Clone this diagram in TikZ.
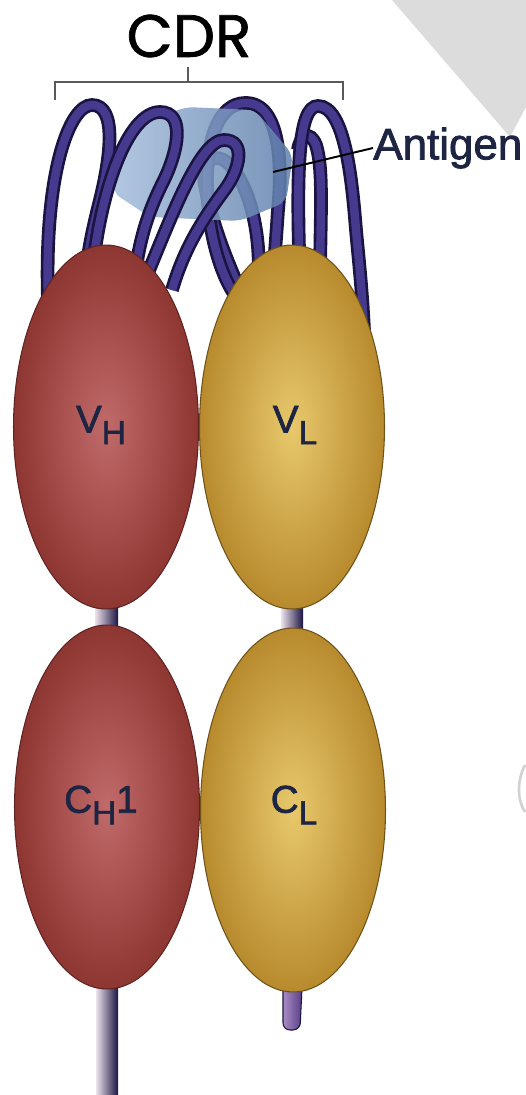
\documentclass[tikz,border=0pt]{standalone}
\usepackage{fontspec}
\setmainfont{Liberation Sans}
\newfontfamily\cdrfont{Poppins}[FakeBold=1.2]
\newfontfamily\labfont{Liberation Sans}[FakeBold=1.8]
\usepackage{tikz}
\usetikzlibrary{shapes.geometric,calc}
\pgfdeclarelayer{back}
\pgfsetlayers{back,main}

\definecolor{loopdark}{HTML}{1B1442}
\definecolor{loopmid}{HTML}{463A8E}
\definecolor{heavyin}{HTML}{C06A6A}
\definecolor{heavyout}{HTML}{8E3631}
\definecolor{heavyrim}{HTML}{5E2424}
\definecolor{lightin}{HTML}{E8C86C}
\definecolor{lightout}{HTML}{B88A2E}
\definecolor{lightrim}{HTML}{6E5218}
\definecolor{agleft}{HTML}{A5BEDC}
\definecolor{agright}{HTML}{5F80AC}
\definecolor{labnavy}{HTML}{1D2542}
\definecolor{bracketgray}{HTML}{5A5A5A}
\definecolor{sheetgray}{HTML}{DCDCDC}
\definecolor{stalkpale}{HTML}{EDE2EC}
\definecolor{tailpale}{HTML}{A78CC4}
\definecolor{taildeep}{HTML}{5A3F86}

\newcommand\chainsub[1]{\raisebox{-0.3em}{\fontsize{19}{19}\selectfont #1}}

\begin{document}
\begin{tikzpicture}[x=0.02cm,y=-0.02cm,
  igdomain/.style={ellipse,inner sep=0pt,minimum width=3.7cm,minimum height=7.28cm,line width=0.6pt},
  heavy/.style={igdomain,draw=heavyrim,inner color=heavyin,outer color=heavyout},
  light/.style={igdomain,draw=lightrim,inner color=lightin,outer color=lightout},
  loop/.style={draw=loopdark,line width=1.5pt,double=loopmid,double distance=4.8pt},
  stalk/.style={left color=stalkpale,right color=loopdark},
  domlabel/.style={text=labnavy,font=\labfont\fontsize{22}{22}\selectfont,inner sep=0pt},
  bracket/.style={draw=bracketgray,line width=1.7pt}]
\useasboundingbox (0,0) rectangle (526,1095);

% page corner and stray mark
\fill[sheetgray] (392,0) -- (526,0) -- (526,107) -- (510,137) -- cycle;
\draw[gray!35,line width=1.5pt] (525,765) .. controls (517,780) and (517,800) .. (525,812);

% CDR bracket
\node[font=\cdrfont\fontsize{34}{34}\selectfont,inner sep=0pt] (cdr) at (189,36) {CDR};
\draw[bracket] (55,100) -- (55,82) -- (343,82) -- (343,100);
\draw[bracket] (188,82) -- (188,67);

% loops behind the antigen
\draw[loop] (258,290) .. controls (262,240) and (252,190) .. (230,165) .. controls (215,150) and (200,160) .. (205,185) .. controls (210,215) and (222,250) .. (240,290);
\draw[loop] (235,295) .. controls (200,245) and (192,104) .. (245,103) .. controls (282,102) and (282,170) .. (278,210) .. controls (276,240) and (274,265) .. (272,290);
\draw[loop] (320,285) .. controls (320,220) and (324,170) .. (316,145) .. controls (310,130) and (300,135) .. (298,150);

% antigen
\path[left color=agleft,right color=agright,opacity=0.85,rounded corners=5]
  (112,192) -- (136,128) -- (185,107) -- (255,110) -- (293,155) -- (286,202) -- (240,221) -- (150,217) -- cycle;
\coordinate (agtip) at (273,172);

% loops in front
\draw[loop] (48,300) .. controls (44,170) and (70,105) .. (92,105) .. controls (118,105) and (110,160) .. (100,200) .. controls (93,228) and (88,250) .. (86,275);
\draw[loop] (92,275) .. controls (100,190) and (128,112) .. (160,112) .. controls (186,112) and (178,152) .. (163,182) .. controls (150,208) and (140,235) .. (135,275);
\draw[loop] (145,280) .. controls (172,215) and (200,140) .. (224,140) .. controls (246,140) and (240,168) .. (226,188) .. controls (206,215) and (185,245) .. (172,290);
\draw[loop] (300,280) .. controls (296,170) and (298,106) .. (318,106) .. controls (345,106) and (352,180) .. (356,230) .. controls (359,262) and (362,290) .. (364,330);

% domains
\node[heavy] (vh) at (106,427) {};
\node[light] (vl) at (292,427) {};
\node[heavy] (ch1) at (107,807) {};
\node[light] (cl) at (293,810) {};

\node[domlabel] (vhtext) at ($(vh)+(-5,-2)$) {V\chainsub{H}};
\node[domlabel] (vltext) at ($(vl)+(3,-2)$) {V\chainsub{L}};
\node[domlabel] (ch1text) at ($(ch1)+(-6,-2)$) {C\chainsub{H}1};
\node[domlabel] (cltext) at ($(cl)+(1,-5)$) {C\chainsub{L}};

% stalks
\coordinate (htail) at (107,1100);
\coordinate (ltail) at (291,1030);
\begin{pgfonlayer}{back}
\fill[white] (0,0) rectangle (526,1095);
\path[stalk] ($(vh.south)+(-11,-5)$) rectangle ($(ch1.north)+(11,5)$);
\path[stalk] ($(vl.south)+(-11,-5)$) rectangle ($(cl.north)+(10,5)$);
\path[stalk] ($(ch1.south)+(-11,-5)$) rectangle ($(htail)+(11,0)$);
\draw[left color=tailpale,right color=taildeep,draw=loopdark,line width=0.6pt,rounded corners=4]
  ($(cl.south)+(-10,-5)$) -- ($(ltail)+(-8,0)$) -- ($(ltail)+(9,0)$) -- ($(cl.south)+(9,-5)$);
\end{pgfonlayer}

% antigen label
\node[anchor=west,text=labnavy,font=\labfont\fontsize{25}{25}\selectfont,inner sep=0pt] (agtext) at (373,148) {Antigen};
\draw[line width=1.1pt] (agtip) -- (agtext.west);
\end{tikzpicture}
\end{document}
